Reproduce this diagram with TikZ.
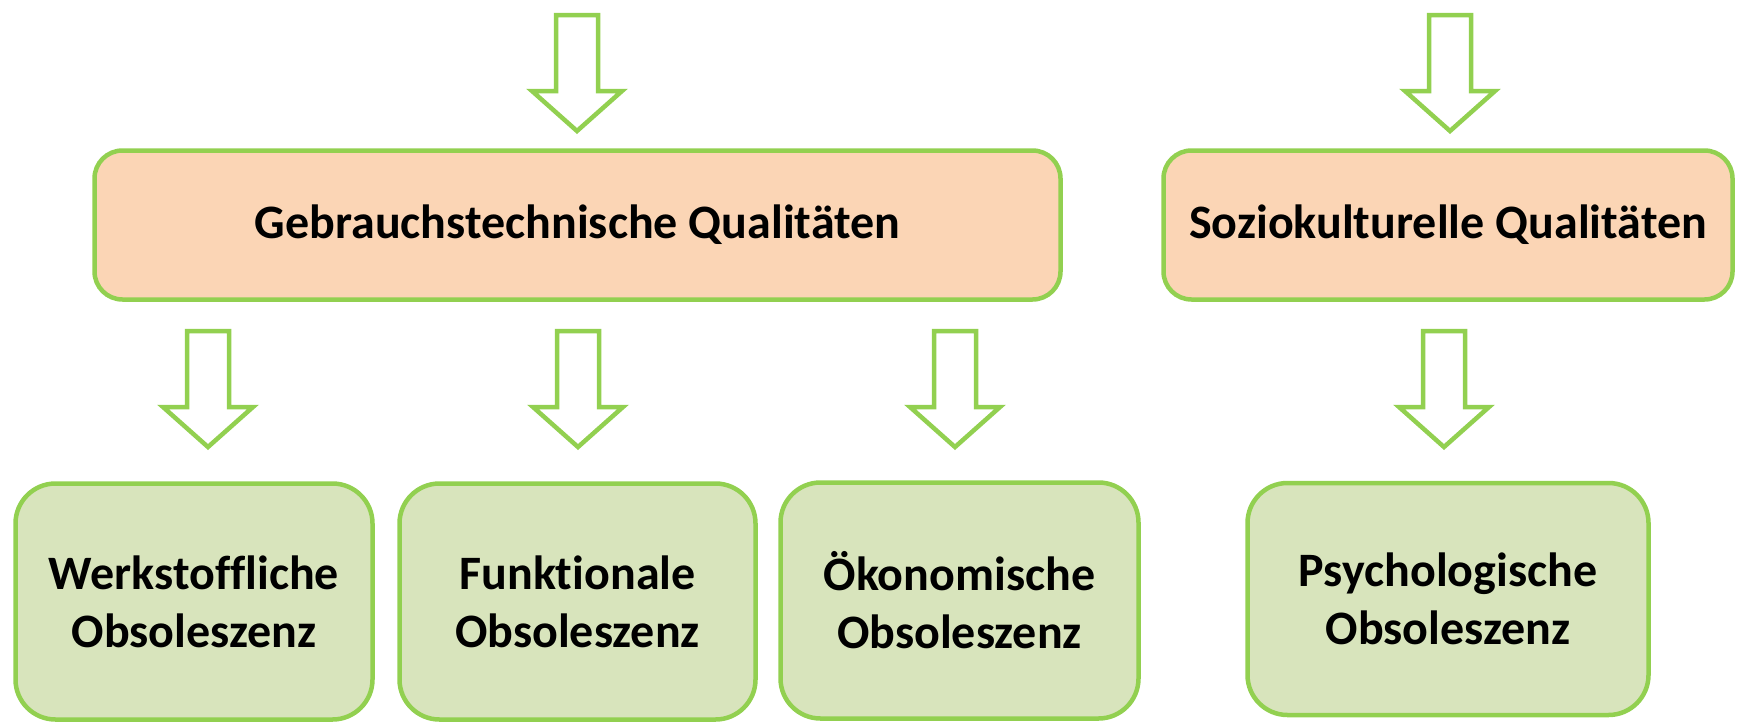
\documentclass[tikz,border=0pt]{standalone}
\usepackage{fontspec}
\setmainfont{Carlito}[Ligatures=NoCommon]
\definecolor{lgreen}{HTML}{92D050}
\definecolor{peach}{HTML}{FBD5B5}
\definecolor{sage}{HTML}{D8E4BC}
\tikzset{
 box/.style={draw=lgreen, line width=4.5pt, rectangle, align=center, font=\fontsize{48}{58}\selectfont\bfseries, inner sep=0pt},
 topbox/.style={box, fill=peach, rounded corners=28pt, minimum height=149pt},
 lowbox/.style={box, fill=sage, rounded corners=40pt},
 arrowline/.style={draw=lgreen, line width=4.5pt, fill=white, line join=miter},
 downarr/.pic={\path[arrowline] (-21,0) -- (21,0) -- (21,76) -- (45,76) -- (0,116) -- (-45,76) -- (-21,76) -- cycle;}
}
\begin{document}
\begin{tikzpicture}[x=1pt,y=-1pt]
\useasboundingbox (0,0) rectangle (1742,723);
\node[topbox, minimum width=966pt] (gt) at (577.5,225) {Gebrauchstechnische Qualitäten};
\node[topbox, minimum width=569pt] (sk) at (1448,225) {Soziokulturelle Qualitäten};
\node[lowbox, minimum width=357pt, minimum height=236pt] (wo) at (194,601.5) {Werkstoffliche\\Obsoleszenz};
\node[lowbox, minimum width=356pt, minimum height=236pt] (fo) at (577.5,601.5) {Funktionale\\Obsoleszenz};
\node[lowbox, minimum width=358pt, minimum height=236pt] (oo) at (959.5,600.5) {Ökonomische\\Obsoleszenz};
\node[lowbox, minimum width=401pt, minimum height=232pt] (po) at (1448,599) {Psychologische\\Obsoleszenz};
\pic at (577,15) {downarr};
\pic at (1450,15) {downarr};
\pic at (208,331) {downarr};
\pic at (578,331) {downarr};
\pic at (955,331) {downarr};
\pic at (1444,331) {downarr};
\end{tikzpicture}
\end{document}
